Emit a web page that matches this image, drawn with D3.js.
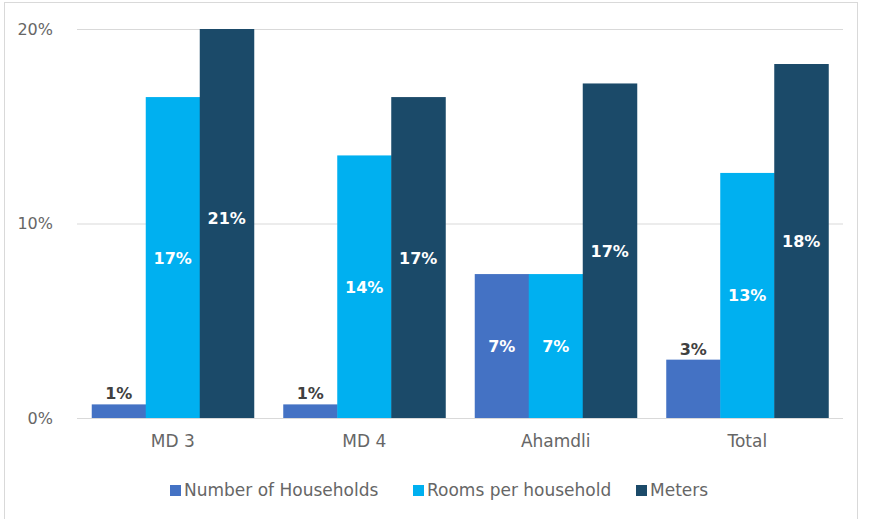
<!DOCTYPE html>
<html>
<head>
<meta charset="utf-8">
<script src="https://cdn.jsdelivr.net/npm/d3@7"></script>
<style>
  html, body { margin: 0; padding: 0; background: #fff; }
  svg { display: block; font-family: "DejaVu Sans", sans-serif; }
</style>
</head>
<body>
<svg id="chart" width="869" height="519"></svg>
<script>
// Share of each indicator by area
const categories = ["MD 3", "MD 4", "Ahamdli", "Total"];
const seriesNames = ["Number of Households", "Rooms per household", "Meters"];
const households = [0.7, 0.7, 7.4, 3.0];
const roomsPerHousehold = [16.5, 13.5, 7.4, 12.6];
const meters = [20.6, 16.5, 17.2, 18.2];
const yTicks = [0, 10, 20];
const colors = ["#4472C4", "#00B0F0", "#1B4A69"];

const seriesValues = [households, roomsPerHousehold, meters];

const svg = d3.select("#chart");
const W = 869, H = 519;
const margin = { left: 77, right: 26, top: 29, bottom: 101 };
const plotW = W - margin.left - margin.right;
const plotH = H - margin.top - margin.bottom;

// outer frame
svg.append("rect")
  .attr("x", 4.5).attr("y", 2.5)
  .attr("width", 853).attr("height", 530)
  .attr("fill", "#fff").attr("stroke", "#d9d9d9").attr("stroke-width", 1);

const g = svg.append("g").attr("transform", `translate(${margin.left},${margin.top})`);

const x0 = d3.scaleBand().domain(categories).range([0, plotW])
  .paddingInner(0.154).paddingOuter(0.077);
const x1 = d3.scaleBand().domain(seriesNames).range([0, x0.bandwidth()]);
const y = d3.scaleLinear().domain([0, 20]).range([plotH, 0]);

// gridlines
g.append("g").selectAll("line").data(yTicks).join("line")
  .attr("x1", 0).attr("x2", plotW)
  .attr("y1", d => y(d) + 0.5).attr("y2", d => y(d) + 0.5)
  .attr("stroke", "#d9d9d9").attr("stroke-width", 1);

// y tick labels
const yAxis = d3.axisLeft(y).tickValues(yTicks).tickFormat(d => d + "%").tickSize(0).tickPadding(24);
const ya = g.append("g").call(yAxis);
ya.select(".domain").remove();
ya.selectAll("text").attr("fill", "#666666").style("font-size", "16px").style("font-family", "DejaVu Sans, sans-serif");

// bars, clipped to the plot area
svg.append("defs").append("clipPath").attr("id", "plotClip")
  .append("rect").attr("x", 0).attr("y", 0).attr("width", plotW).attr("height", plotH);

const rows = [];
categories.forEach((c, i) => {
  seriesNames.forEach((s, j) => rows.push({ cat: c, series: s, j, value: seriesValues[j][i] }));
});

const bars = g.append("g").attr("clip-path", "url(#plotClip)");
bars.selectAll("rect").data(rows).join("rect")
  .attr("x", d => x0(d.cat) + x1(d.series))
  .attr("width", x1.bandwidth() + 0.5)
  .attr("y", d => y(d.value))
  .attr("height", d => plotH - y(d.value))
  .attr("fill", d => colors[d.j]);

// x axis line
g.append("line").attr("x1", 0).attr("x2", plotW)
  .attr("y1", plotH + 0.5).attr("y2", plotH + 0.5)
  .attr("stroke", "#d9d9d9");

// category labels
const xAxis = d3.axisBottom(x0).tickSize(0).tickPadding(17);
const xa = g.append("g").attr("transform", `translate(0,${plotH})`).call(xAxis);
xa.select(".domain").remove();
xa.selectAll("text").attr("fill", "#666666").style("font-size", "17px").style("font-family", "DejaVu Sans, sans-serif");

// value labels: centred in bar, or above short bars
const fmt = v => Math.round(v) + "%";
g.append("g").selectAll("text").data(rows).join("text")
  .attr("x", d => x0(d.cat) + x1(d.series) + x1.bandwidth() / 2)
  .attr("y", d => {
    const small = (plotH - y(d.value)) < 70;
    return small ? y(d.value) - 5 : (y(d.value) + plotH) / 2 + 6;
  })
  .attr("text-anchor", "middle")
  .attr("fill", d => (plotH - y(d.value)) < 70 ? "#404040" : "#ffffff")
  .style("font-size", "16px").style("font-weight", "bold")
  .text(d => fmt(d.value));

// legend
const legendItems = [
  { name: seriesNames[0], x: 170 },
  { name: seriesNames[1], x: 413 },
  { name: seriesNames[2], x: 636 }
];
const lg = svg.append("g");
legendItems.forEach((it, i) => {
  lg.append("rect").attr("x", it.x).attr("y", 485).attr("width", 11).attr("height", 11).attr("fill", colors[i]);
  lg.append("text").attr("x", it.x + 14).attr("y", 496)
    .attr("fill", "#666666").style("font-size", "17px").text(it.name);
});
</script>
</body>
</html>
